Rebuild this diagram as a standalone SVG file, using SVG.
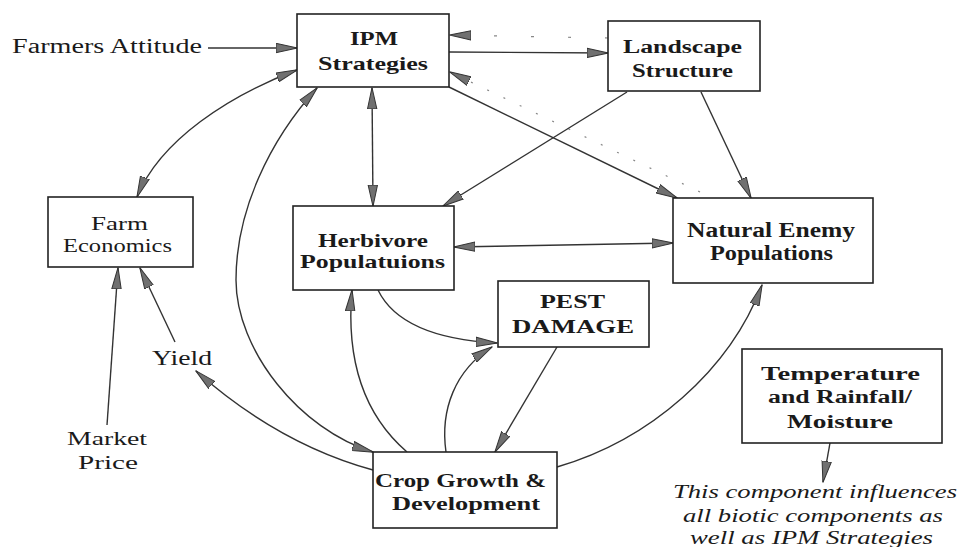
<svg xmlns="http://www.w3.org/2000/svg" width="960" height="547" viewBox="0 0 960 547">
<style>
.bg{fill:#ffffff}
.box{fill:#ffffff;stroke:#222;stroke-width:1.6}
.t{font-family:"Liberation Serif","Times New Roman",serif;fill:#1a1a1a}
.b{font-weight:bold}
.i{font-style:italic}
.c{fill:none;stroke:#333;stroke-width:1.4}
.d{fill:none;stroke:#888;stroke-width:1.2}
</style>
<defs>
<marker id="ah" viewBox="0 0 22 11" refX="21" refY="5.5" markerWidth="22" markerHeight="11" markerUnits="userSpaceOnUse" orient="auto-start-reverse">
<path d="M0,0.8 L21.5,5.5 L0,10.2 z" fill="#707070" stroke="#333" stroke-width="1"/>
</marker>
</defs>
<rect class="bg" x="0" y="0" width="960" height="547"/>

<g id="connectors">
<path class="c" d="M208,48 L297,48" marker-end="url(#ah)"/>
<path class="c" d="M297,70 C230,95 160,140 137,197" marker-start="url(#ah)" marker-end="url(#ah)"/>
<path class="c" d="M449,52 L608,53" marker-end="url(#ah)"/>
<path class="d" d="M608,38 L450,35" stroke-dasharray="3 34" marker-end="url(#ah)"/>
<path class="d" d="M700,192 L450,72" stroke-dasharray="2 16" marker-end="url(#ah)"/>
<path class="c" d="M449,87 L677,198" marker-end="url(#ah)"/>
<path class="c" d="M627,92 L443,206" marker-end="url(#ah)"/>
<path class="c" d="M701,92 L751,198" marker-end="url(#ah)"/>
<path class="c" d="M372,88 L373,206" marker-start="url(#ah)" marker-end="url(#ah)"/>
<path class="c" d="M454,247 L673,243" marker-start="url(#ah)" marker-end="url(#ah)"/>
<path class="c" d="M373,452 C300,430 236,350 236,280 C236,210 270,140 317,88" marker-start="url(#ah)" marker-end="url(#ah)"/>
<path class="c" d="M407,452 C370,420 345,370 352,290" marker-end="url(#ah)"/>
<path class="c" d="M378,290 C395,325 440,340 497,343" marker-end="url(#ah)"/>
<path class="c" d="M446,452 C440,410 455,370 492,347" marker-end="url(#ah)"/>
<path class="c" d="M557,347 L495,452" marker-end="url(#ah)"/>
<path class="c" d="M557,467 C650,440 730,370 762,285" marker-end="url(#ah)"/>
<path class="c" d="M373,470 C300,450 240,410 196,371" marker-end="url(#ah)"/>
<path class="c" d="M175,342 L140,268" marker-end="url(#ah)"/>
<path class="c" d="M107,425 L118,268" marker-end="url(#ah)"/>
<path class="c" d="M830,443 L823,482" marker-end="url(#ah)"/>
</g>

<g id="farmers-attitude">
<text class="t" x="12" y="53" font-size="20" textLength="190" lengthAdjust="spacingAndGlyphs">Farmers Attitude</text>
</g>

<g id="ipm-strategies">
<rect class="box" x="297" y="14" width="152" height="73"/>
<text class="t b" x="350" y="45" font-size="19" textLength="48" lengthAdjust="spacingAndGlyphs">IPM</text>
<text class="t b" x="318" y="70" font-size="19" textLength="110" lengthAdjust="spacingAndGlyphs">Strategies</text>
</g>

<g id="landscape-structure">
<rect class="box" x="608" y="21" width="152" height="70"/>
<text class="t b" x="623" y="53" font-size="18" textLength="119" lengthAdjust="spacingAndGlyphs">Landscape</text>
<text class="t b" x="632" y="77" font-size="18" textLength="101" lengthAdjust="spacingAndGlyphs">Structure</text>
</g>

<g id="farm-economics">
<rect class="box" x="48" y="197" width="145" height="70"/>
<text class="t" x="91" y="230" font-size="19" textLength="57" lengthAdjust="spacingAndGlyphs">Farm</text>
<text class="t" x="63" y="252" font-size="19" textLength="109" lengthAdjust="spacingAndGlyphs">Economics</text>
</g>

<g id="herbivore-populations">
<rect class="box" x="293" y="206" width="161" height="84"/>
<text class="t b" x="318" y="247" font-size="19" textLength="110" lengthAdjust="spacingAndGlyphs">Herbivore</text>
<text class="t b" x="300" y="268" font-size="19" textLength="145" lengthAdjust="spacingAndGlyphs">Populatuions</text>
</g>

<g id="natural-enemy-populations">
<rect class="box" x="673" y="198" width="200" height="85"/>
<text class="t b" x="687" y="237" font-size="20" textLength="168" lengthAdjust="spacingAndGlyphs">Natural Enemy</text>
<text class="t b" x="710" y="260" font-size="20" textLength="123" lengthAdjust="spacingAndGlyphs">Populations</text>
</g>

<g id="pest-damage">
<rect class="box" x="498" y="281" width="151" height="66"/>
<text class="t b" x="540" y="308" font-size="18" textLength="65" lengthAdjust="spacingAndGlyphs">PEST</text>
<text class="t b" x="512" y="333" font-size="18" textLength="122" lengthAdjust="spacingAndGlyphs">DAMAGE</text>
</g>

<g id="temperature-rainfall">
<rect class="box" x="742" y="349" width="200" height="94"/>
<text class="t b" x="761" y="380" font-size="18" textLength="159" lengthAdjust="spacingAndGlyphs">Temperature</text>
<text class="t b" x="768" y="403" font-size="18" textLength="144" lengthAdjust="spacingAndGlyphs">and Rainfall/</text>
<text class="t b" x="787" y="428" font-size="18" textLength="106" lengthAdjust="spacingAndGlyphs">Moisture</text>
</g>

<g id="crop-growth">
<rect class="box" x="373" y="452" width="184" height="76"/>
<text class="t b" x="375" y="487" font-size="19" textLength="171" lengthAdjust="spacingAndGlyphs">Crop Growth &amp;</text>
<text class="t b" x="392" y="510" font-size="19" textLength="148" lengthAdjust="spacingAndGlyphs">Development</text>
</g>

<g id="yield">
<text class="t" x="152" y="365" font-size="20" textLength="60" lengthAdjust="spacingAndGlyphs">Yield</text>
</g>

<g id="market-price">
<text class="t" x="67" y="445" font-size="19" textLength="80" lengthAdjust="spacingAndGlyphs">Market</text>
<text class="t" x="78" y="469" font-size="19" textLength="60" lengthAdjust="spacingAndGlyphs">Price</text>
</g>

<g id="note">
<text class="t i" x="673" y="498" font-size="19" textLength="284" lengthAdjust="spacingAndGlyphs">This component influences</text>
<text class="t i" x="683" y="522" font-size="19" textLength="260" lengthAdjust="spacingAndGlyphs">all biotic components as</text>
<text class="t i" x="690" y="544" font-size="19" textLength="243" lengthAdjust="spacingAndGlyphs">well as IPM Strategies</text>
</g>
</svg>
